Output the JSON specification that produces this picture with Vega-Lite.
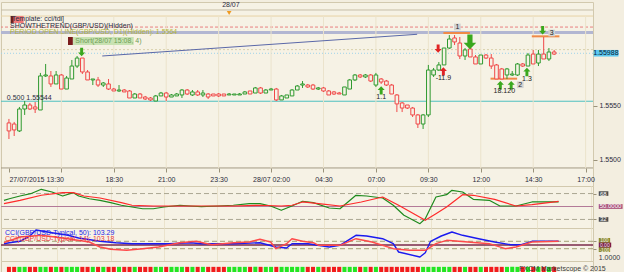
{
"$schema": "https://vega.github.io/schema/vega-lite/v6.json",
"padding": 0,
"spacing": 0,
"bounds": "flush",
"background": "#f3eee0",
"resolve": {"scale": {"color": "independent", "stroke": "independent", "strokeDash": "independent", "strokeWidth": "independent", "shape": "independent", "size": "independent"}},
"config": {
 "view": {"stroke": "#d2c9ae", "fill": "#f6f2e5"},
 "axis": {"labelFont": "Liberation Sans", "labelFontSize": 7, "labelColor": "#2b2b3b", "domainColor": "#9a927a", "tickColor": "#9a927a", "gridColor": "#ebe3cc"},
 "text": {"font": "Liberation Sans", "fontSize": 7}
},
"datasets": {
 "candles": [
  {"t":"2015-07-27T13:30","o":1.55343,"h":1.55380,"l":1.55194,"c":1.55269},
  {"t":"2015-07-27T13:45","o":1.55333,"h":1.55352,"l":1.55222,"c":1.55278},
  {"t":"2015-07-27T14:00","o":1.55269,"h":1.55491,"l":1.55259,"c":1.55472},
  {"t":"2015-07-27T14:15","o":1.55472,"h":1.55546,"l":1.55417,"c":1.55509},
  {"t":"2015-07-27T14:30","o":1.55509,"h":1.55528,"l":1.55463,"c":1.55472},
  {"t":"2015-07-27T14:45","o":1.55491,"h":1.55537,"l":1.55435,"c":1.55472},
  {"t":"2015-07-27T15:00","o":1.55463,"h":1.55806,"l":1.55463,"c":1.55778},
  {"t":"2015-07-27T15:15","o":1.55778,"h":1.55889,"l":1.55769,"c":1.55787},
  {"t":"2015-07-27T15:30","o":1.55778,"h":1.55824,"l":1.55676,"c":1.55704},
  {"t":"2015-07-27T15:45","o":1.55704,"h":1.55824,"l":1.55704,"c":1.55787},
  {"t":"2015-07-27T16:00","o":1.55787,"h":1.55796,"l":1.55657,"c":1.55657},
  {"t":"2015-07-27T16:15","o":1.55657,"h":1.55778,"l":1.55657,"c":1.55759},
  {"t":"2015-07-27T16:30","o":1.55750,"h":1.55926,"l":1.55750,"c":1.55870},
  {"t":"2015-07-27T16:45","o":1.55870,"h":1.55963,"l":1.55852,"c":1.55944},
  {"t":"2015-07-27T17:00","o":1.55944,"h":1.55944,"l":1.55796,"c":1.55815},
  {"t":"2015-07-27T17:15","o":1.55815,"h":1.55833,"l":1.55741,"c":1.55741},
  {"t":"2015-07-27T17:30","o":1.55741,"h":1.55750,"l":1.55694,"c":1.55750},
  {"t":"2015-07-27T17:45","o":1.55741,"h":1.55769,"l":1.55676,"c":1.55694},
  {"t":"2015-07-27T18:00","o":1.55694,"h":1.55722,"l":1.55676,"c":1.55713},
  {"t":"2015-07-27T18:15","o":1.55704,"h":1.55750,"l":1.55648,"c":1.55657},
  {"t":"2015-07-27T18:30","o":1.55657,"h":1.55667,"l":1.55639,"c":1.55639},
  {"t":"2015-07-27T18:45","o":1.55639,"h":1.55694,"l":1.55630,"c":1.55648},
  {"t":"2015-07-27T19:00","o":1.55648,"h":1.55657,"l":1.55630,"c":1.55630},
  {"t":"2015-07-27T19:15","o":1.55639,"h":1.55648,"l":1.55574,"c":1.55574},
  {"t":"2015-07-27T19:30","o":1.55574,"h":1.55620,"l":1.55574,"c":1.55611},
  {"t":"2015-07-27T19:45","o":1.55611,"h":1.55620,"l":1.55574,"c":1.55574},
  {"t":"2015-07-27T20:00","o":1.55583,"h":1.55593,"l":1.55556,"c":1.55565},
  {"t":"2015-07-27T20:15","o":1.55574,"h":1.55583,"l":1.55546,"c":1.55556},
  {"t":"2015-07-27T20:30","o":1.55546,"h":1.55602,"l":1.55546,"c":1.55593},
  {"t":"2015-07-27T20:45","o":1.55593,"h":1.55630,"l":1.55593,"c":1.55620},
  {"t":"2015-07-27T21:00","o":1.55620,"h":1.55630,"l":1.55546,"c":1.55583},
  {"t":"2015-07-27T21:15","o":1.55583,"h":1.55611,"l":1.55583,"c":1.55602},
  {"t":"2015-07-27T21:30","o":1.55593,"h":1.55620,"l":1.55593,"c":1.55611},
  {"t":"2015-07-27T21:45","o":1.55602,"h":1.55657,"l":1.55574,"c":1.55648},
  {"t":"2015-07-27T22:00","o":1.55648,"h":1.55657,"l":1.55602,"c":1.55611},
  {"t":"2015-07-27T22:15","o":1.55602,"h":1.55648,"l":1.55593,"c":1.55630},
  {"t":"2015-07-27T22:30","o":1.55630,"h":1.55648,"l":1.55593,"c":1.55602},
  {"t":"2015-07-27T22:45","o":1.55602,"h":1.55648,"l":1.55583,"c":1.55620},
  {"t":"2015-07-27T23:00","o":1.55611,"h":1.55620,"l":1.55565,"c":1.55583},
  {"t":"2015-07-27T23:15","o":1.55611,"h":1.55611,"l":1.55593,"c":1.55593},
  {"t":"2015-07-27T23:30","o":1.55611,"h":1.55620,"l":1.55583,"c":1.55593},
  {"t":"2015-07-27T23:45","o":1.55611,"h":1.55611,"l":1.55593,"c":1.55593},
  {"t":"2015-07-28T00:00","o":1.55602,"h":1.55620,"l":1.55602,"c":1.55611},
  {"t":"2015-07-28T00:15","o":1.55602,"h":1.55611,"l":1.55602,"c":1.55611},
  {"t":"2015-07-28T00:30","o":1.55602,"h":1.55620,"l":1.55602,"c":1.55611},
  {"t":"2015-07-28T00:45","o":1.55611,"h":1.55639,"l":1.55611,"c":1.55630},
  {"t":"2015-07-28T01:00","o":1.55639,"h":1.55639,"l":1.55611,"c":1.55611},
  {"t":"2015-07-28T01:15","o":1.55620,"h":1.55676,"l":1.55620,"c":1.55667},
  {"t":"2015-07-28T01:30","o":1.55667,"h":1.55676,"l":1.55611,"c":1.55620},
  {"t":"2015-07-28T01:45","o":1.55620,"h":1.55657,"l":1.55620,"c":1.55648},
  {"t":"2015-07-28T02:00","o":1.55648,"h":1.55667,"l":1.55648,"c":1.55657},
  {"t":"2015-07-28T02:15","o":1.55657,"h":1.55667,"l":1.55546,"c":1.55556},
  {"t":"2015-07-28T02:30","o":1.55556,"h":1.55602,"l":1.55556,"c":1.55593},
  {"t":"2015-07-28T02:45","o":1.55574,"h":1.55602,"l":1.55574,"c":1.55602},
  {"t":"2015-07-28T03:00","o":1.55593,"h":1.55657,"l":1.55593,"c":1.55648},
  {"t":"2015-07-28T03:15","o":1.55648,"h":1.55694,"l":1.55648,"c":1.55685},
  {"t":"2015-07-28T03:30","o":1.55694,"h":1.55731,"l":1.55667,"c":1.55704},
  {"t":"2015-07-28T03:45","o":1.55694,"h":1.55704,"l":1.55667,"c":1.55676},
  {"t":"2015-07-28T04:00","o":1.55694,"h":1.55704,"l":1.55648,"c":1.55657},
  {"t":"2015-07-28T04:15","o":1.55657,"h":1.55676,"l":1.55648,"c":1.55667},
  {"t":"2015-07-28T04:30","o":1.55667,"h":1.55676,"l":1.55630,"c":1.55639},
  {"t":"2015-07-28T04:45","o":1.55639,"h":1.55648,"l":1.55602,"c":1.55602},
  {"t":"2015-07-28T05:00","o":1.55630,"h":1.55639,"l":1.55602,"c":1.55611},
  {"t":"2015-07-28T05:15","o":1.55620,"h":1.55630,"l":1.55611,"c":1.55611},
  {"t":"2015-07-28T05:30","o":1.55602,"h":1.55676,"l":1.55602,"c":1.55676},
  {"t":"2015-07-28T05:45","o":1.55657,"h":1.55750,"l":1.55657,"c":1.55741},
  {"t":"2015-07-28T06:00","o":1.55741,"h":1.55796,"l":1.55731,"c":1.55787},
  {"t":"2015-07-28T06:15","o":1.55787,"h":1.55796,"l":1.55759,"c":1.55769},
  {"t":"2015-07-28T06:30","o":1.55769,"h":1.55796,"l":1.55759,"c":1.55787},
  {"t":"2015-07-28T06:45","o":1.55787,"h":1.55796,"l":1.55722,"c":1.55731},
  {"t":"2015-07-28T07:00","o":1.55694,"h":1.55806,"l":1.55676,"c":1.55787},
  {"t":"2015-07-28T07:15","o":1.55750,"h":1.55759,"l":1.55704,"c":1.55722},
  {"t":"2015-07-28T07:30","o":1.55731,"h":1.55741,"l":1.55685,"c":1.55694},
  {"t":"2015-07-28T07:45","o":1.55694,"h":1.55704,"l":1.55611,"c":1.55611},
  {"t":"2015-07-28T08:00","o":1.55602,"h":1.55611,"l":1.55444,"c":1.55519},
  {"t":"2015-07-28T08:15","o":1.55528,"h":1.55537,"l":1.55444,"c":1.55481},
  {"t":"2015-07-28T08:30","o":1.55509,"h":1.55509,"l":1.55472,"c":1.55481},
  {"t":"2015-07-28T08:45","o":1.55481,"h":1.55491,"l":1.55398,"c":1.55417},
  {"t":"2015-07-28T09:00","o":1.55417,"h":1.55426,"l":1.55296,"c":1.55333},
  {"t":"2015-07-28T09:15","o":1.55333,"h":1.55426,"l":1.55287,"c":1.55417},
  {"t":"2015-07-28T09:30","o":1.55417,"h":1.55880,"l":1.55398,"c":1.55833},
  {"t":"2015-07-28T09:45","o":1.55787,"h":1.55852,"l":1.55769,"c":1.55833},
  {"t":"2015-07-28T10:00","o":1.55833,"h":1.55907,"l":1.55824,"c":1.55880},
  {"t":"2015-07-28T10:15","o":1.55880,"h":1.56037,"l":1.55880,"c":1.56037},
  {"t":"2015-07-28T10:30","o":1.56037,"h":1.56157,"l":1.56028,"c":1.56120},
  {"t":"2015-07-28T10:45","o":1.56130,"h":1.56157,"l":1.56065,"c":1.56093},
  {"t":"2015-07-28T11:00","o":1.56083,"h":1.56139,"l":1.55935,"c":1.55963},
  {"t":"2015-07-28T11:15","o":1.55963,"h":1.56037,"l":1.55926,"c":1.56019},
  {"t":"2015-07-28T11:30","o":1.56028,"h":1.56037,"l":1.55954,"c":1.55954},
  {"t":"2015-07-28T11:45","o":1.55954,"h":1.55972,"l":1.55889,"c":1.55889},
  {"t":"2015-07-28T12:00","o":1.55889,"h":1.55972,"l":1.55889,"c":1.55972},
  {"t":"2015-07-28T12:15","o":1.55972,"h":1.55981,"l":1.55935,"c":1.55944},
  {"t":"2015-07-28T12:30","o":1.55944,"h":1.55981,"l":1.55843,"c":1.55870},
  {"t":"2015-07-28T12:45","o":1.55880,"h":1.55889,"l":1.55750,"c":1.55750},
  {"t":"2015-07-28T13:00","o":1.55843,"h":1.55852,"l":1.55750,"c":1.55750},
  {"t":"2015-07-28T13:15","o":1.55787,"h":1.55852,"l":1.55750,"c":1.55843},
  {"t":"2015-07-28T13:30","o":1.55787,"h":1.55824,"l":1.55778,"c":1.55796},
  {"t":"2015-07-28T13:45","o":1.55787,"h":1.55898,"l":1.55778,"c":1.55889},
  {"t":"2015-07-28T14:00","o":1.55889,"h":1.55898,"l":1.55861,"c":1.55870},
  {"t":"2015-07-28T14:15","o":1.55870,"h":1.55991,"l":1.55870,"c":1.55972},
  {"t":"2015-07-28T14:30","o":1.55981,"h":1.56019,"l":1.55889,"c":1.55889},
  {"t":"2015-07-28T14:45","o":1.55898,"h":1.56019,"l":1.55870,"c":1.55981},
  {"t":"2015-07-28T15:00","o":1.55981,"h":1.56139,"l":1.55935,"c":1.55935},
  {"t":"2015-07-28T15:15","o":1.55935,"h":1.56037,"l":1.55917,"c":1.56000},
  {"t":"2015-07-28T15:30","o":1.56000,"h":1.56019,"l":1.55972,"c":1.55981}
 ],
 "levels": [
  {"name":"header","p":1.56389},
  {"name":"frame","p":1.56333},
  {"name":"stop","p":1.56231},
  {"name":"ask","p":1.56022},
  {"name":"bid","p":1.55988},
  {"name":"fib","p":1.55544},
  {"name":"axis","p":1.54926}
 ],
 "band": [{"p":1.56195,"p2":1.56167}],
 "vgrid": [
  {"t":"2015-07-27T16:00"},{"t":"2015-07-27T18:30"},{"t":"2015-07-27T21:00"},{"t":"2015-07-27T23:30"},{"t":"2015-07-28T02:00"},{"t":"2015-07-28T04:30"},{"t":"2015-07-28T07:00"},{"t":"2015-07-28T09:30"},{"t":"2015-07-28T12:00"},{"t":"2015-07-28T14:30"},{"t":"2015-07-28T17:00"}
 ],
 "trend": [{"t":"2015-07-27T17:57","p":1.55963,"t2":"2015-07-28T08:58","p2":1.56164}],
 "segs": [
  {"n":"1","t":"2015-07-28T10:13","t2":"2015-07-28T11:29","p":1.56176},
  {"n":"2","t":"2015-07-28T12:28","t2":"2015-07-28T13:44","p":1.55753},
  {"n":"3","t":"2015-07-28T14:26","t2":"2015-07-28T15:45","p":1.56145}
 ],
 "arrows": [
  {"t":"2015-07-27T16:58","p":1.56000,"d":"down","c":"g","k":"s"},
  {"t":"2015-07-28T07:15","p":1.55645,"d":"up","c":"g","k":"s","lab":"1.1","lp":1.55583},
  {"t":"2015-07-28T09:58","p":1.56031,"d":"down","c":"r","k":"s"},
  {"t":"2015-07-28T10:13","p":1.55821,"d":"up","c":"r","k":"s","lab":"-11.9","lp":1.55759},
  {"t":"2015-07-28T11:29","p":1.56093,"d":"down","c":"g","k":"b"},
  {"t":"2015-07-28T12:56","p":1.55692,"d":"up","c":"g","k":"s","lab":"18.1","lp":1.55636},
  {"t":"2015-07-28T13:27","p":1.55692,"d":"up","c":"g","k":"s","lab":"20","lp":1.55636},
  {"t":"2015-07-28T14:12","p":1.55815,"d":"up","c":"g","k":"s","lab":"1.3","lp":1.55753},
  {"t":"2015-07-28T14:57","p":1.56201,"d":"down","c":"g","k":"s"}
 ],
 "nums": [
  {"n":"1","t":"2015-07-28T10:53","p":1.56232},
  {"n":"2","t":"2015-07-28T13:53","p":1.55697},
  {"n":"3","t":"2015-07-28T15:23","p":1.56176}
 ],
 "boxes": [
  {"k":"dr","t":"2015-07-27T13:36","t2":"2015-07-27T13:44","p":1.56333,"p2":1.56269},
  {"k":"pk","t":"2015-07-27T13:44","t2":"2015-07-27T14:12","p":1.56333,"p2":1.56269},
  {"k":"dr","t":"2015-07-27T16:19","t2":"2015-07-27T16:33","p":1.56139,"p2":1.56065},
  {"k":"lg","t":"2015-07-27T16:33","t2":"2015-07-27T19:27","p":1.56139,"p2":1.56065}
 ],
 "notes": [
  {"k":"a","t":"2015-07-27T13:33","p":1.56306,"txt":"[Template: cci/tdi]"},
  {"k":"a","t":"2015-07-27T13:33","p":1.56241,"txt":"SHOWTHETREND(GBP/USD)(Hidden)"},
  {"k":"b","t":"2015-07-27T13:33","p":1.56185,"txt":"PERIOD OPEN LINE(GBP/USD, D1)(Hidden): 1.5564"},
  {"k":"c","t":"2015-07-27T16:40","p":1.56102,"txt":"Short(28/07 15:08, 4)"},
  {"k":"a","t":"2015-07-27T23:40","p":1.56431,"txt":"28/07"},
  {"k":"a","t":"2015-07-27T13:24","p":1.55575,"txt":"0.500 1.55544"}
 ],
 "daymark": [{"t":"2015-07-28T00:00","p":1.56361}],
 "price": [{"t":"2015-07-28T17:23","t2":"2015-07-28T18:34","p":1.56019,"p2":1.55958,"tm":"2015-07-28T17:58","v":1.55988}],
 "tdilev": [{"v":68},{"v":32}],
 "tdimid": [{"v":50.75,"v2":49.25}],
 "tdibox": [
  {"k":"hi","t":"2015-07-28T17:23","t2":"2015-07-28T17:50","v":71.2,"v2":64.8,"m":68,"tm":"2015-07-28T17:36","txt":"68"},
  {"k":"mid","t":"2015-07-28T17:23","t2":"2015-07-28T18:30","v":53.3,"v2":46.7,"m":50,"tm":"2015-07-28T17:56","txt":"50.0000"},
  {"k":"lo","t":"2015-07-28T17:23","t2":"2015-07-28T17:50","v":35.2,"v2":28.8,"m":32,"tm":"2015-07-28T17:36","txt":"32"}
 ],
 "tdi": [
  {"t":"2015-07-27T13:30","s":"g","v":58.6},{"t":"2015-07-27T13:45","s":"g","v":60.8},{"t":"2015-07-27T14:15","s":"g","v":64.6},{"t":"2015-07-27T14:45","s":"g","v":67.8},{"t":"2015-07-27T15:15","s":"g","v":73.9},{"t":"2015-07-27T15:45","s":"g","v":70.2},{"t":"2015-07-27T16:15","s":"g","v":64.6},{"t":"2015-07-27T16:45","s":"g","v":69.2},{"t":"2015-07-27T17:00","s":"g","v":64.6},{"t":"2015-07-27T17:30","s":"g","v":60.8},{"t":"2015-07-27T18:00","s":"g","v":58.6},{"t":"2015-07-27T18:30","s":"g","v":55.3},{"t":"2015-07-27T19:00","s":"g","v":51.7},{"t":"2015-07-27T19:30","s":"g","v":49.3},{"t":"2015-07-27T20:00","s":"g","v":46.9},{"t":"2015-07-27T20:30","s":"g","v":46.9},{"t":"2015-07-27T21:00","s":"g","v":49.3},{"t":"2015-07-27T21:45","s":"g","v":51.7},{"t":"2015-07-27T22:15","s":"g","v":50.7},{"t":"2015-07-27T22:45","s":"g","v":49.7},{"t":"2015-07-27T23:30","s":"g","v":50.7},{"t":"2015-07-28T00:15","s":"g","v":51.7},{"t":"2015-07-28T01:00","s":"g","v":53.9},{"t":"2015-07-28T01:30","s":"g","v":53.9},{"t":"2015-07-28T02:00","s":"g","v":50.7},{"t":"2015-07-28T02:30","s":"g","v":44.7},{"t":"2015-07-28T03:00","s":"g","v":50.7},{"t":"2015-07-28T03:30","s":"g","v":57.2},{"t":"2015-07-28T04:00","s":"g","v":55.3},{"t":"2015-07-28T04:45","s":"g","v":47.9},{"t":"2015-07-28T05:15","s":"g","v":46.9},{"t":"2015-07-28T06:00","s":"g","v":65.6},{"t":"2015-07-28T06:30","s":"g","v":64.6},{"t":"2015-07-28T07:15","s":"g","v":61.8},{"t":"2015-07-28T07:45","s":"g","v":51.7},{"t":"2015-07-28T08:15","s":"g","v":37.8},{"t":"2015-07-28T09:00","s":"g","v":26.1},{"t":"2015-07-28T09:15","s":"g","v":33.0},{"t":"2015-07-28T09:45","s":"g","v":63.2},{"t":"2015-07-28T10:15","s":"g","v":66.4},{"t":"2015-07-28T10:30","s":"g","v":72.5},{"t":"2015-07-28T11:00","s":"g","v":70.2},{"t":"2015-07-28T11:30","s":"g","v":60.0},{"t":"2015-07-28T12:15","s":"g","v":58.6},{"t":"2015-07-28T12:45","s":"g","v":50.7},{"t":"2015-07-28T13:30","s":"g","v":50.7},{"t":"2015-07-28T14:15","s":"g","v":56.3},{"t":"2015-07-28T15:30","s":"g","v":56.3},
  {"t":"2015-07-27T13:30","s":"r","v":53.9},{"t":"2015-07-27T14:15","s":"r","v":58.6},{"t":"2015-07-27T15:15","s":"r","v":65.6},{"t":"2015-07-27T16:15","s":"r","v":69.2},{"t":"2015-07-27T16:45","s":"r","v":69.2},{"t":"2015-07-27T17:15","s":"r","v":64.6},{"t":"2015-07-27T18:00","s":"r","v":61.8},{"t":"2015-07-27T19:00","s":"r","v":55.3},{"t":"2015-07-27T19:30","s":"r","v":51.7},{"t":"2015-07-27T20:30","s":"r","v":50.7},{"t":"2015-07-27T21:15","s":"r","v":50.7},{"t":"2015-07-27T22:45","s":"r","v":50.7},{"t":"2015-07-28T00:15","s":"r","v":50.7},{"t":"2015-07-28T01:30","s":"r","v":51.7},{"t":"2015-07-28T02:30","s":"r","v":50.7},{"t":"2015-07-28T03:00","s":"r","v":51.7},{"t":"2015-07-28T03:30","s":"r","v":56.3},{"t":"2015-07-28T04:15","s":"r","v":53.9},{"t":"2015-07-28T05:15","s":"r","v":50.7},{"t":"2015-07-28T06:15","s":"r","v":56.3},{"t":"2015-07-28T07:15","s":"r","v":63.2},{"t":"2015-07-28T08:00","s":"r","v":51.7},{"t":"2015-07-28T09:15","s":"r","v":30.8},{"t":"2015-07-28T09:45","s":"r","v":40.0},{"t":"2015-07-28T10:15","s":"r","v":49.3},{"t":"2015-07-28T11:00","s":"r","v":66.4},{"t":"2015-07-28T11:30","s":"r","v":65.6},{"t":"2015-07-28T12:30","s":"r","v":60.0},{"t":"2015-07-28T13:30","s":"r","v":50.7},{"t":"2015-07-28T14:15","s":"r","v":52.5},{"t":"2015-07-28T15:30","s":"r","v":57.2}
 ],
 "ccilev": [{"v":100},{"v":-100}],
 "ccimid": [{"v":20,"v2":-20}],
 "ccibox": [
  {"k":"hi","t":"2015-07-28T17:23","t2":"2015-07-28T17:55","v":189,"v2":56,"m":122,"tm":"2015-07-28T17:39","txt":"100"},
  {"k":"lo","t":"2015-07-28T17:23","t2":"2015-07-28T17:55","v":-56,"v2":-189,"m":-122,"tm":"2015-07-28T17:39","txt":"-100"},
  {"k":"mid","t":"2015-07-28T17:23","t2":"2015-07-28T17:58","v":66,"v2":-66,"m":0,"tm":"2015-07-28T17:40","txt":"0.00"}
 ],
 "cci": [
  {"t":"2015-07-27T13:30","s":"b","v":35},{"t":"2015-07-27T13:45","s":"b","v":62},{"t":"2015-07-27T14:15","s":"b","v":100},{"t":"2015-07-27T14:45","s":"b","v":262},{"t":"2015-07-27T15:00","s":"b","v":405},{"t":"2015-07-27T15:45","s":"b","v":332},{"t":"2015-07-27T16:30","s":"b","v":262},{"t":"2015-07-27T17:00","s":"b","v":189},{"t":"2015-07-27T18:00","s":"b","v":100},{"t":"2015-07-27T18:45","s":"b","v":62},{"t":"2015-07-27T19:30","s":"b","v":35},{"t":"2015-07-27T21:15","s":"b","v":35},{"t":"2015-07-27T22:15","s":"b","v":62},{"t":"2015-07-27T22:45","s":"b","v":35},{"t":"2015-07-28T00:15","s":"b","v":35},{"t":"2015-07-28T01:30","s":"b","v":62},{"t":"2015-07-28T02:15","s":"b","v":-54},{"t":"2015-07-28T02:45","s":"b","v":-81},{"t":"2015-07-28T03:00","s":"b","v":35},{"t":"2015-07-28T03:45","s":"b","v":35},{"t":"2015-07-28T04:45","s":"b","v":-54},{"t":"2015-07-28T05:15","s":"b","v":-8},{"t":"2015-07-28T06:00","s":"b","v":262},{"t":"2015-07-28T06:30","s":"b","v":243},{"t":"2015-07-28T07:15","s":"b","v":170},{"t":"2015-07-28T07:45","s":"b","v":35},{"t":"2015-07-28T08:00","s":"b","v":-189},{"t":"2015-07-28T09:00","s":"b","v":-324},{"t":"2015-07-28T09:15","s":"b","v":-208},{"t":"2015-07-28T09:30","s":"b","v":100},{"t":"2015-07-28T10:00","s":"b","v":243},{"t":"2015-07-28T10:30","s":"b","v":351},{"t":"2015-07-28T11:00","s":"b","v":262},{"t":"2015-07-28T11:45","s":"b","v":170},{"t":"2015-07-28T12:30","s":"b","v":81},{"t":"2015-07-28T13:15","s":"b","v":8},{"t":"2015-07-28T13:45","s":"b","v":8},{"t":"2015-07-28T14:15","s":"b","v":100},{"t":"2015-07-28T15:30","s":"b","v":103},
  {"t":"2015-07-27T13:30","s":"r","v":62},{"t":"2015-07-27T14:15","s":"r","v":216},{"t":"2015-07-27T15:15","s":"r","v":262},{"t":"2015-07-27T16:30","s":"r","v":170},{"t":"2015-07-27T17:30","s":"r","v":81},{"t":"2015-07-27T18:00","s":"r","v":-54},{"t":"2015-07-27T18:30","s":"r","v":-116},{"t":"2015-07-27T19:15","s":"r","v":-143},{"t":"2015-07-27T20:00","s":"r","v":-100},{"t":"2015-07-27T20:45","s":"r","v":-54},{"t":"2015-07-27T21:45","s":"r","v":62},{"t":"2015-07-27T22:30","s":"r","v":100},{"t":"2015-07-27T23:15","s":"r","v":8},{"t":"2015-07-28T00:15","s":"r","v":62},{"t":"2015-07-28T01:00","s":"r","v":81},{"t":"2015-07-28T01:30","s":"r","v":154},{"t":"2015-07-28T02:00","s":"r","v":81},{"t":"2015-07-28T02:15","s":"r","v":-100},{"t":"2015-07-28T02:45","s":"r","v":35},{"t":"2015-07-28T03:00","s":"r","v":170},{"t":"2015-07-28T03:30","s":"r","v":100},{"t":"2015-07-28T04:00","s":"r","v":62},{"t":"2015-07-28T04:15","s":"r","v":-8},{"t":"2015-07-28T05:15","s":"r","v":-8},{"t":"2015-07-28T06:00","s":"r","v":170},{"t":"2015-07-28T06:45","s":"r","v":81},{"t":"2015-07-28T07:45","s":"r","v":-100},{"t":"2015-07-28T08:30","s":"r","v":-143},{"t":"2015-07-28T09:15","s":"r","v":-143},{"t":"2015-07-28T09:45","s":"r","v":35},{"t":"2015-07-28T10:15","s":"r","v":127},{"t":"2015-07-28T11:15","s":"r","v":81},{"t":"2015-07-28T12:15","s":"r","v":35},{"t":"2015-07-28T13:00","s":"r","v":-100},{"t":"2015-07-28T13:30","s":"r","v":-54},{"t":"2015-07-28T14:15","s":"r","v":81},{"t":"2015-07-28T15:30","s":"r","v":103}
 ],
 "ccinotes": [
  {"k":"b","t":"2015-07-27T13:33","v":332,"txt":"CCI(GBP/USD-Typical, 50): 103.29"},
  {"k":"r","t":"2015-07-27T13:33","v":170,"txt":"CCI(GBP/USD-Typical, 14): 103.18"},
  {"k":"x","t":"2015-07-28T17:23","v":-351,"txt":"1.0000"}
 ],
 "stripnotes": [{"t":"2015-07-28T13:50","v":0.38,"txt":"FXCM Marketscope © 2015"}]
},
"vconcat": [
 {
  "width": 592, "height": 184,
  "resolve": {"scale": {"color": "independent", "strokeDash": "independent", "shape": "independent", "size": "independent"}},
  "layer": [
   {"data": {"name": "levels"}, "mark": {"type": "rule", "strokeWidth": 1, "clip": true},
    "encoding": {
     "y": {"field": "p", "type": "quantitative", "scale": {"domain": [1.54759, 1.56463], "zero": false, "nice": false},
       "axis": {"orient": "right", "title": null, "values": [1.55, 1.555], "format": ".4f", "grid": false, "domain": false, "tickSize": 4, "labelPadding": 2}},
     "color": {"field": "name", "type": "nominal", "legend": null, "scale": {"domain": ["header","frame","stop","ask","bid","fib","axis"], "range": ["#c6bea6","#e7d3a6","#e88080","#d9d0ac","#9fd3ea","#4fc0c0","#a39b84"]}},
     "strokeDash": {"field": "name", "type": "nominal", "legend": null, "scale": {"domain": ["header","frame","stop","ask","bid","fib","axis"], "range": [[1,0],[1,0],[3,2],[2,2],[1,2],[1,0],[1,0]]}}
    }},
   {"data": {"name": "band"}, "mark": {"type": "rect", "color": "#b2b6d2", "clip": true},
    "encoding": {
     "y": {"field": "p", "type": "quantitative", "scale": {"domain": [1.54759, 1.56463], "zero": false, "nice": false}},
     "y2": {"field": "p2"}
    }},
   {"data": {"name": "vgrid"}, "mark": {"type": "rule", "color": "#ebe3cc", "clip": true},
    "encoding": {
     "x": {"field": "t", "type": "temporal", "scale": {"domain": [{"year":2015,"month":7,"date":27,"hours":13,"minutes":21,"seconds":36},{"year":2015,"month":7,"date":28,"hours":17,"minutes":6,"seconds":48}]}},
     "y": {"datum": 1.56333, "type": "quantitative", "scale": {"domain": [1.54759, 1.56463], "zero": false, "nice": false}},
     "y2": {"datum": 1.54926}
    }},
   {"data": {"name": "trend"}, "mark": {"type": "rule", "color": "#5a68a8", "strokeWidth": 1},
    "encoding": {
     "x": {"field": "t", "type": "temporal",
       "scale": {"domain": [{"year":2015,"month":7,"date":27,"hours":13,"minutes":21,"seconds":36},{"year":2015,"month":7,"date":28,"hours":17,"minutes":6,"seconds":48}]},
       "axis": {"title": null, "orient": "bottom", "offset": -18, "grid": false, "domain": false, "tickSize": 4, "labelPadding": 3,
        "values": [
         {"year":2015,"month":7,"date":27,"hours":13,"minutes":30},{"year":2015,"month":7,"date":27,"hours":16,"minutes":0},{"year":2015,"month":7,"date":27,"hours":18,"minutes":30},{"year":2015,"month":7,"date":27,"hours":21,"minutes":0},{"year":2015,"month":7,"date":27,"hours":23,"minutes":30},{"year":2015,"month":7,"date":28,"hours":2,"minutes":0},{"year":2015,"month":7,"date":28,"hours":4,"minutes":30},{"year":2015,"month":7,"date":28,"hours":7,"minutes":0},{"year":2015,"month":7,"date":28,"hours":9,"minutes":30},{"year":2015,"month":7,"date":28,"hours":12,"minutes":0},{"year":2015,"month":7,"date":28,"hours":14,"minutes":30},{"year":2015,"month":7,"date":28,"hours":17,"minutes":0}],
        "labelExpr": "hours(datum.value)==13 ? '27/07/2015 13:30' : (hours(datum.value)==16 ? '' : (hours(datum.value)==2 ? '28/07 02:00' : timeFormat(datum.value, '%H:%M')))",
        "labelAlign": {"condition": {"test": "hours(datum.value)==13", "value": "left"}, "value": "center"}}},
     "x2": {"field": "t2"},
     "y": {"field": "p", "type": "quantitative", "scale": {"domain": [1.54759, 1.56463], "zero": false, "nice": false}},
     "y2": {"field": "p2"}
    }},
   {"data": {"name": "segs"}, "mark": {"type": "rule", "color": "#f08a48", "strokeWidth": 2},
    "encoding": {
     "x": {"field": "t", "type": "temporal", "scale": {"domain": [{"year":2015,"month":7,"date":27,"hours":13,"minutes":21,"seconds":36},{"year":2015,"month":7,"date":28,"hours":17,"minutes":6,"seconds":48}]}},
     "x2": {"field": "t2"},
     "y": {"field": "p", "type": "quantitative", "scale": {"domain": [1.54759, 1.56463], "zero": false, "nice": false}}
    }},
   {"data": {"name": "candles"}, "mark": {"type": "rule", "strokeWidth": 1},
    "encoding": {
     "x": {"field": "t", "type": "temporal", "scale": {"domain": [{"year":2015,"month":7,"date":27,"hours":13,"minutes":21,"seconds":36},{"year":2015,"month":7,"date":28,"hours":17,"minutes":6,"seconds":48}]}},
     "y": {"field": "l", "type": "quantitative", "scale": {"domain": [1.54759, 1.56463], "zero": false, "nice": false}},
     "y2": {"field": "h"},
     "color": {"condition": {"test": "datum.c >= datum.o", "value": "#2f9a2f"}, "value": "#f04848"}
    }},
   {"data": {"name": "candles"}, "mark": {"type": "bar", "width": 3.6, "fill": "#f6f2e5", "strokeWidth": 1},
    "encoding": {
     "x": {"field": "t", "type": "temporal", "scale": {"domain": [{"year":2015,"month":7,"date":27,"hours":13,"minutes":21,"seconds":36},{"year":2015,"month":7,"date":28,"hours":17,"minutes":6,"seconds":48}]}},
     "y": {"field": "o", "type": "quantitative", "scale": {"domain": [1.54759, 1.56463], "zero": false, "nice": false}},
     "y2": {"field": "c"},
     "stroke": {"condition": {"test": "datum.c >= datum.o", "value": "#2f9a2f"}, "value": "#f04848"}
    }},
   {"data": {"name": "boxes"}, "mark": {"type": "rect"},
    "encoding": {
     "x": {"field": "t", "type": "temporal", "scale": {"domain": [{"year":2015,"month":7,"date":27,"hours":13,"minutes":21,"seconds":36},{"year":2015,"month":7,"date":28,"hours":17,"minutes":6,"seconds":48}]}},
     "x2": {"field": "t2"},
     "y": {"field": "p", "type": "quantitative", "scale": {"domain": [1.54759, 1.56463], "zero": false, "nice": false}},
     "y2": {"field": "p2"},
     "color": {"field": "k", "type": "nominal", "legend": null, "scale": {"domain": ["dr","pk","lg"], "range": ["#7a1c1c","#f07a7a","#c8e2b2"]}}
    }},
   {"data": {"name": "notes"}, "mark": {"type": "text", "align": "left", "baseline": "middle", "fontSize": 7},
    "encoding": {
     "x": {"field": "t", "type": "temporal", "scale": {"domain": [{"year":2015,"month":7,"date":27,"hours":13,"minutes":21,"seconds":36},{"year":2015,"month":7,"date":28,"hours":17,"minutes":6,"seconds":48}]}},
     "y": {"field": "p", "type": "quantitative", "scale": {"domain": [1.54759, 1.56463], "zero": false, "nice": false}},
     "text": {"field": "txt"},
     "color": {"field": "k", "type": "nominal", "legend": null, "scale": {"domain": ["a","b","c"], "range": ["#2a2a3e","#b4b43a","#6e9c56"]}}
    }},
   {"data": {"name": "daymark"}, "mark": {"type": "point", "shape": "triangle-down", "filled": true, "size": 22, "color": "#f09a20", "opacity": 1},
    "encoding": {
     "x": {"field": "t", "type": "temporal", "scale": {"domain": [{"year":2015,"month":7,"date":27,"hours":13,"minutes":21,"seconds":36},{"year":2015,"month":7,"date":28,"hours":17,"minutes":6,"seconds":48}]}},
     "y": {"field": "p", "type": "quantitative", "scale": {"domain": [1.54759, 1.56463], "zero": false, "nice": false}}
    }},
   {"data": {"name": "arrows"}, "mark": {"type": "point", "filled": true, "opacity": 1, "strokeWidth": 0},
    "encoding": {
     "x": {"field": "t", "type": "temporal", "scale": {"domain": [{"year":2015,"month":7,"date":27,"hours":13,"minutes":21,"seconds":36},{"year":2015,"month":7,"date":28,"hours":17,"minutes":6,"seconds":48}]}},
     "y": {"field": "p", "type": "quantitative", "scale": {"domain": [1.54759, 1.56463], "zero": false, "nice": false}},
     "shape": {"field": "d", "type": "nominal", "legend": null, "scale": {"domain": ["up","down"], "range": ["M0,-1L0.85,-0.1L0.35,-0.1L0.35,1L-0.35,1L-0.35,-0.1L-0.85,-0.1Z","M0,1L0.85,0.1L0.35,0.1L0.35,-1L-0.35,-1L-0.35,0.1L-0.85,0.1Z"]}},
     "color": {"field": "c", "type": "nominal", "legend": null, "scale": {"domain": ["g","r"], "range": ["#3aa81e","#e02424"]}},
     "size": {"field": "k", "type": "nominal", "legend": null, "scale": {"domain": ["s","b"], "range": [70, 220]}}
    }},
   {"data": {"name": "arrows"}, "transform": [{"filter": "datum.lab"}], "mark": {"type": "text", "align": "center", "baseline": "middle", "fontSize": 7, "color": "#222"},
    "encoding": {
     "x": {"field": "t", "type": "temporal", "scale": {"domain": [{"year":2015,"month":7,"date":27,"hours":13,"minutes":21,"seconds":36},{"year":2015,"month":7,"date":28,"hours":17,"minutes":6,"seconds":48}]}},
     "y": {"field": "lp", "type": "quantitative", "scale": {"domain": [1.54759, 1.56463], "zero": false, "nice": false}},
     "text": {"field": "lab"}
    }},
   {"data": {"name": "nums"}, "mark": {"type": "point", "shape": "square", "filled": true, "size": 45, "color": "#d2d2d2", "opacity": 1},
    "encoding": {
     "x": {"field": "t", "type": "temporal", "scale": {"domain": [{"year":2015,"month":7,"date":27,"hours":13,"minutes":21,"seconds":36},{"year":2015,"month":7,"date":28,"hours":17,"minutes":6,"seconds":48}]}},
     "y": {"field": "p", "type": "quantitative", "scale": {"domain": [1.54759, 1.56463], "zero": false, "nice": false}}
    }},
   {"data": {"name": "nums"}, "mark": {"type": "text", "align": "center", "baseline": "middle", "fontSize": 7, "color": "#222"},
    "encoding": {
     "x": {"field": "t", "type": "temporal", "scale": {"domain": [{"year":2015,"month":7,"date":27,"hours":13,"minutes":21,"seconds":36},{"year":2015,"month":7,"date":28,"hours":17,"minutes":6,"seconds":48}]}},
     "y": {"field": "p", "type": "quantitative", "scale": {"domain": [1.54759, 1.56463], "zero": false, "nice": false}},
     "text": {"field": "n"}
    }},
   {"data": {"name": "price"}, "mark": {"type": "rect", "color": "#5cc8f0"},
    "encoding": {
     "x": {"field": "t", "type": "temporal", "scale": {"domain": [{"year":2015,"month":7,"date":27,"hours":13,"minutes":21,"seconds":36},{"year":2015,"month":7,"date":28,"hours":17,"minutes":6,"seconds":48}]}},
     "x2": {"field": "t2"},
     "y": {"field": "p", "type": "quantitative", "scale": {"domain": [1.54759, 1.56463], "zero": false, "nice": false}},
     "y2": {"field": "p2"}
    }},
   {"data": {"name": "price"}, "mark": {"type": "text", "align": "center", "baseline": "middle", "fontSize": 7, "color": "#0a1a30"},
    "encoding": {
     "x": {"field": "tm", "type": "temporal", "scale": {"domain": [{"year":2015,"month":7,"date":27,"hours":13,"minutes":21,"seconds":36},{"year":2015,"month":7,"date":28,"hours":17,"minutes":6,"seconds":48}]}},
     "y": {"field": "v", "type": "quantitative", "scale": {"domain": [1.54759, 1.56463], "zero": false, "nice": false}},
     "text": {"field": "v", "format": ".5f"}
    }}
  ]
 },
 {
  "width": 592, "height": 42,
  "resolve": {"scale": {"color": "independent"}},
  "layer": [
   {"data": {"name": "tdilev"}, "mark": {"type": "rule", "color": "#aaa692", "strokeDash": [5, 3], "strokeWidth": 1, "clip": true},
    "encoding": {
     "y": {"field": "v", "type": "quantitative", "scale": {"domain": [20.1, 78.5], "zero": false, "nice": false},
       "axis": {"orient": "right", "title": null, "values": [32, 50, 68], "grid": false, "domain": false, "tickSize": 3, "labels": false}}
    }},
   {"data": {"name": "tdimid"}, "mark": {"type": "rect", "color": "#b37a98", "clip": true},
    "encoding": {
     "y": {"field": "v", "type": "quantitative", "scale": {"domain": [20.1, 78.5], "zero": false, "nice": false}},
     "y2": {"field": "v2"}
    }},
   {"data": {"name": "tdi"}, "mark": {"type": "line", "strokeWidth": 1.2, "strokeJoin": "round"},
    "encoding": {
     "x": {"field": "t", "type": "temporal", "scale": {"domain": [{"year":2015,"month":7,"date":27,"hours":13,"minutes":21,"seconds":36},{"year":2015,"month":7,"date":28,"hours":17,"minutes":6,"seconds":48}]},
       "axis": {"title": null, "labels": false, "ticks": false, "domain": false, "grid": true,
        "values": [{"year":2015,"month":7,"date":27,"hours":16,"minutes":0},{"year":2015,"month":7,"date":27,"hours":18,"minutes":30},{"year":2015,"month":7,"date":27,"hours":21,"minutes":0},{"year":2015,"month":7,"date":27,"hours":23,"minutes":30},{"year":2015,"month":7,"date":28,"hours":2,"minutes":0},{"year":2015,"month":7,"date":28,"hours":4,"minutes":30},{"year":2015,"month":7,"date":28,"hours":7,"minutes":0},{"year":2015,"month":7,"date":28,"hours":9,"minutes":30},{"year":2015,"month":7,"date":28,"hours":12,"minutes":0},{"year":2015,"month":7,"date":28,"hours":14,"minutes":30},{"year":2015,"month":7,"date":28,"hours":17,"minutes":0}]}},
     "y": {"field": "v", "type": "quantitative", "scale": {"domain": [20.1, 78.5], "zero": false, "nice": false}},
     "color": {"field": "s", "type": "nominal", "legend": null, "scale": {"domain": ["g","r"], "range": ["#1e8a1e","#ff2a2a"]}}
    }},
   {"data": {"name": "tdibox"}, "mark": {"type": "rect"},
    "encoding": {
     "x": {"field": "t", "type": "temporal", "scale": {"domain": [{"year":2015,"month":7,"date":27,"hours":13,"minutes":21,"seconds":36},{"year":2015,"month":7,"date":28,"hours":17,"minutes":6,"seconds":48}]}},
     "x2": {"field": "t2"},
     "y": {"field": "v", "type": "quantitative", "scale": {"domain": [20.1, 78.5], "zero": false, "nice": false}},
     "y2": {"field": "v2"},
     "color": {"field": "k", "type": "nominal", "legend": null, "scale": {"domain": ["hi","mid","lo"], "range": ["#4e4e4e","#a8507a","#4e4e4e"]}}
    }},
   {"data": {"name": "tdibox"}, "mark": {"type": "text", "align": "center", "baseline": "middle", "fontSize": 6, "color": "#ffffff"},
    "encoding": {
     "x": {"field": "tm", "type": "temporal", "scale": {"domain": [{"year":2015,"month":7,"date":27,"hours":13,"minutes":21,"seconds":36},{"year":2015,"month":7,"date":28,"hours":17,"minutes":6,"seconds":48}]}},
     "y": {"field": "m", "type": "quantitative", "scale": {"domain": [20.1, 78.5], "zero": false, "nice": false}},
     "text": {"field": "txt"}
    }}
  ]
 },
 {
  "width": 592, "height": 33,
  "resolve": {"scale": {"color": "independent"}},
  "layer": [
   {"data": {"name": "ccilev"}, "mark": {"type": "rule", "color": "#a4a074", "strokeDash": [5, 3], "strokeWidth": 1, "clip": true},
    "encoding": {
     "y": {"field": "v", "type": "quantitative", "scale": {"domain": [-432, 459], "zero": false, "nice": false},
       "axis": {"orient": "right", "title": null, "values": [-100, 0, 100], "grid": false, "domain": false, "tickSize": 3, "labels": false}}
    }},
   {"data": {"name": "ccimid"}, "mark": {"type": "rect", "color": "#7a2a4a", "clip": true},
    "encoding": {
     "y": {"field": "v", "type": "quantitative", "scale": {"domain": [-432, 459], "zero": false, "nice": false}},
     "y2": {"field": "v2"}
    }},
   {"data": {"name": "cci"}, "mark": {"type": "line", "strokeWidth": 1.4, "strokeJoin": "round"},
    "encoding": {
     "x": {"field": "t", "type": "temporal", "scale": {"domain": [{"year":2015,"month":7,"date":27,"hours":13,"minutes":21,"seconds":36},{"year":2015,"month":7,"date":28,"hours":17,"minutes":6,"seconds":48}]},
       "axis": {"title": null, "labels": false, "ticks": false, "domain": false, "grid": true,
        "values": [{"year":2015,"month":7,"date":27,"hours":16,"minutes":0},{"year":2015,"month":7,"date":27,"hours":18,"minutes":30},{"year":2015,"month":7,"date":27,"hours":21,"minutes":0},{"year":2015,"month":7,"date":27,"hours":23,"minutes":30},{"year":2015,"month":7,"date":28,"hours":2,"minutes":0},{"year":2015,"month":7,"date":28,"hours":4,"minutes":30},{"year":2015,"month":7,"date":28,"hours":7,"minutes":0},{"year":2015,"month":7,"date":28,"hours":9,"minutes":30},{"year":2015,"month":7,"date":28,"hours":12,"minutes":0},{"year":2015,"month":7,"date":28,"hours":14,"minutes":30},{"year":2015,"month":7,"date":28,"hours":17,"minutes":0}]}},
     "y": {"field": "v", "type": "quantitative", "scale": {"domain": [-432, 459], "zero": false, "nice": false}},
     "color": {"field": "s", "type": "nominal", "legend": null, "scale": {"domain": ["b","r"], "range": ["#1a1af0","#ff4a4a"]}}
    }},
   {"data": {"name": "ccinotes"}, "mark": {"type": "text", "align": "left", "baseline": "middle", "fontSize": 7},
    "encoding": {
     "x": {"field": "t", "type": "temporal", "scale": {"domain": [{"year":2015,"month":7,"date":27,"hours":13,"minutes":21,"seconds":36},{"year":2015,"month":7,"date":28,"hours":17,"minutes":6,"seconds":48}]}},
     "y": {"field": "v", "type": "quantitative", "scale": {"domain": [-432, 459], "zero": false, "nice": false}},
     "text": {"field": "txt"},
     "color": {"field": "k", "type": "nominal", "legend": null, "scale": {"domain": ["b","r","x"], "range": ["#2424e8","#e83a3a","#333340"]}}
    }},
   {"data": {"name": "ccibox"}, "mark": {"type": "rect"},
    "encoding": {
     "x": {"field": "t", "type": "temporal", "scale": {"domain": [{"year":2015,"month":7,"date":27,"hours":13,"minutes":21,"seconds":36},{"year":2015,"month":7,"date":28,"hours":17,"minutes":6,"seconds":48}]}},
     "x2": {"field": "t2"},
     "y": {"field": "v", "type": "quantitative", "scale": {"domain": [-432, 459], "zero": false, "nice": false}},
     "y2": {"field": "v2"},
     "color": {"field": "k", "type": "nominal", "legend": null, "scale": {"domain": ["hi","mid","lo"], "range": ["#8e8c2e","#7a1c44","#8e8c2e"]}}
    }},
   {"data": {"name": "ccibox"}, "mark": {"type": "text", "align": "center", "baseline": "middle", "fontSize": 5, "color": "#f0f0f0"},
    "encoding": {
     "x": {"field": "tm", "type": "temporal", "scale": {"domain": [{"year":2015,"month":7,"date":27,"hours":13,"minutes":21,"seconds":36},{"year":2015,"month":7,"date":28,"hours":17,"minutes":6,"seconds":48}]}},
     "y": {"field": "m", "type": "quantitative", "scale": {"domain": [-432, 459], "zero": false, "nice": false}},
     "text": {"field": "txt"}
    }}
  ]
 },
 {
  "width": 592, "height": 13,
  "layer": [
   {"data": {"name": "candles"}, "mark": {"type": "bar", "width": 4},
    "encoding": {
     "x": {"field": "t", "type": "temporal", "scale": {"domain": [{"year":2015,"month":7,"date":27,"hours":13,"minutes":21,"seconds":36},{"year":2015,"month":7,"date":28,"hours":17,"minutes":6,"seconds":48}]}, "axis": null},
     "y": {"datum": 0, "type": "quantitative", "scale": {"domain": [0, 1], "nice": false}, "axis": null},
     "y2": {"datum": 0.55},
     "color": {"condition": {"test": "datum.c >= datum.o", "value": "#22e622"}, "value": "#f21c1c"}
    }},
   {"data": {"name": "stripnotes"}, "mark": {"type": "text", "align": "left", "baseline": "middle", "fontSize": 7, "color": "#3a3a3a"},
    "encoding": {
     "x": {"field": "t", "type": "temporal", "scale": {"domain": [{"year":2015,"month":7,"date":27,"hours":13,"minutes":21,"seconds":36},{"year":2015,"month":7,"date":28,"hours":17,"minutes":6,"seconds":48}]}, "axis": null},
     "y": {"field": "v", "type": "quantitative", "scale": {"domain": [0, 1], "nice": false}, "axis": null},
     "text": {"field": "txt"}
    }}
  ]
 }
]
}
